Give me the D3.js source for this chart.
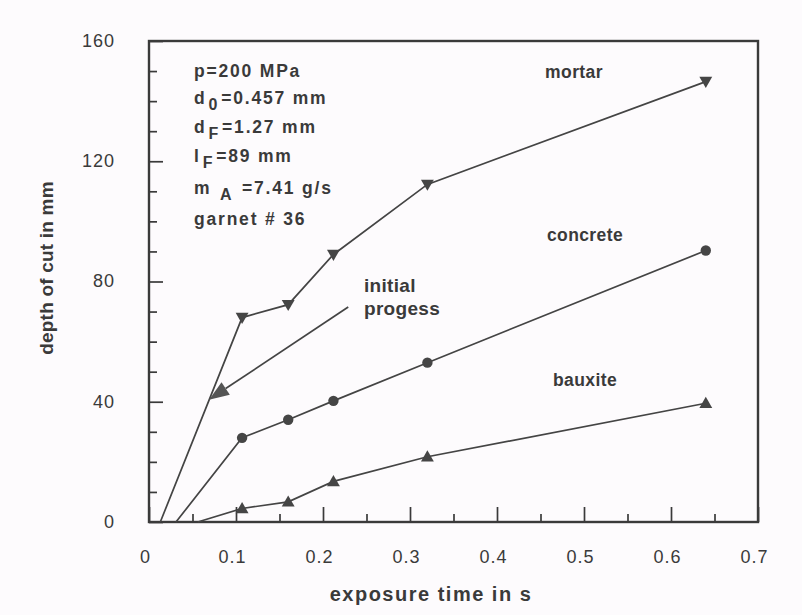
<!DOCTYPE html>
<html><head><meta charset="utf-8">
<script src="https://cdn.jsdelivr.net/npm/d3@7"></script>
<style>
body{margin:0;background:#fdfbfd;}
svg{display:block;}
text{font-family:"Liberation Sans",Arial,sans-serif;fill:#3a3a3a;}
</style></head><body>
<svg id="c" width="802" height="615"></svg>
<script>
const times = [0.107, 0.16, 0.212, 0.32, 0.64];
const mortar = [68, 72.3, 89, 112.3, 146.5];
const concrete = [28, 34, 40.3, 53, 90.3];
const bauxite = [4.5, 6.7, 13.5, 21.7, 39.5];
const intercepts = {mortar: 0.013, concrete: 0.031, bauxite: 0.056};
const xMajor = [0, 0.1, 0.2, 0.3, 0.4, 0.5, 0.6, 0.7];
const xMinor = [0.05, 0.15, 0.25, 0.35, 0.45, 0.55, 0.65];
const yMajor = [0, 40, 80, 120, 160];
const yMinor = [10, 20, 30, 50, 60, 70, 90, 100, 110, 130, 140, 150];
const arrowFrom = [0.229, 71.5], arrowTo = [0.069, 40.7];
const infoLines = [
  ["p=200 MPa"], ["d", "0", "=0.457 mm"], ["d", "F", "=1.27 mm"],
  ["l", "F", "=89 mm"], ["m ", "A", " =7.41 g/s"], ["garnet # 36"]
];

const svg = d3.select("#c");
const x = d3.scaleLinear().domain([0, 0.7]).range([149, 758]);
const y = d3.scaleLinear().domain([0, 160]).range([522, 41]);
const ink = "#3a3a3a";
const FONT = '"Liberation Sans",Arial,sans-serif';

// axes
const fmtX = d => d === 0 ? "0" : d3.format(".1f")(d);
const gx = svg.append("g").attr("transform", `translate(0,${y(0)})`)
  .call(d3.axisBottom(x).tickValues(xMajor).tickSize(-15).tickPadding(28).tickFormat(fmtX));
const gxm = svg.append("g").attr("transform", `translate(0,${y(0)})`)
  .call(d3.axisBottom(x).tickValues(xMinor).tickSize(-8).tickFormat(""));
const gy = svg.append("g").attr("transform", `translate(${x(0)},0)`)
  .call(d3.axisLeft(y).tickValues(yMajor).tickSize(-14).tickPadding(34).tickFormat(d3.format("d")));
const gym = svg.append("g").attr("transform", `translate(${x(0)},0)`)
  .call(d3.axisLeft(y).tickValues(yMinor).tickSize(-8).tickFormat(""));
[gx, gxm, gy, gym].forEach(g => {
  g.select(".domain").remove();
  g.selectAll("line").attr("stroke", ink).attr("stroke-width", 1.7);
  g.selectAll("text").style("font-size", "18px").style("letter-spacing", "1px")
   .attr("fill", "#444").style("font-family", FONT);
});
gy.selectAll("text").attr("dy", "0.3em");
gx.selectAll("text").attr("dy", "0.71em").attr("dx", -4);

// frame
svg.append("rect").attr("x", x(0)).attr("y", y(160))
  .attr("width", x(0.7) - x(0)).attr("height", y(0) - y(160))
  .attr("fill", "none").attr("stroke", ink).attr("stroke-width", 2.4);

// series
const series = [
  {name: "mortar", vals: mortar, start: intercepts.mortar, marker: "down"},
  {name: "concrete", vals: concrete, start: intercepts.concrete, marker: "circle"},
  {name: "bauxite", vals: bauxite, start: intercepts.bauxite, marker: "up"}
];
const line = d3.line().x(d => x(d[0])).y(d => y(d[1]));
const tri = d3.symbol().type(d3.symbolTriangle).size(72);
series.forEach(s => {
  const pts = [[s.start, 0]].concat(times.map((t, i) => [t, s.vals[i]]));
  svg.append("path").attr("d", line(pts)).attr("fill", "none")
    .attr("stroke", "#444").attr("stroke-width", 1.7);
  const g = svg.append("g");
  times.forEach((t, i) => {
    const cx = x(t), cy = y(s.vals[i]);
    if (s.marker === "circle") {
      g.append("circle").attr("cx", cx).attr("cy", cy).attr("r", 5.2).attr("fill", "#454545");
    } else {
      const rot = s.marker === "down" ? 180 : 0;
      g.append("path").attr("d", tri).attr("fill", "#454545")
        .attr("transform", `translate(${cx},${cy + (rot ? -1 : 1)}) rotate(${rot})`);
    }
  });
});

// arrow
const ax0 = x(arrowFrom[0]), ay0 = y(arrowFrom[1]), ax1 = x(arrowTo[0]), ay1 = y(arrowTo[1]);
const ang = Math.atan2(ay1 - ay0, ax1 - ax0);
const L = 20, W = 7.5;
const bx = ax1 - L * Math.cos(ang), by = ay1 - L * Math.sin(ang);
svg.append("line").attr("x1", ax0).attr("y1", ay0).attr("x2", bx).attr("y2", by)
  .attr("stroke", "#444").attr("stroke-width", 1.7);
svg.append("path").attr("fill", "#555").attr("d",
  `M${ax1},${ay1} L${bx + W * Math.sin(ang)},${by - W * Math.cos(ang)} L${bx - W * Math.sin(ang)},${by + W * Math.cos(ang)} Z`);

// labels
const lab = (t, px, py, size, ls, anchor) => svg.append("text").attr("x", px).attr("y", py)
  .attr("text-anchor", anchor || "start").style("font-size", size + "px").style("font-weight", "bold")
  .style("letter-spacing", ls + "px").text(t);
lab("mortar", 574, 78, 17.5, 0.4, "middle");
lab("concrete", 585, 241, 17.5, 0.4, "middle");
lab("bauxite", 585, 386, 17.5, 0.4, "middle");
lab("initial", 364, 292, 19, 0.3);
lab("progess", 364, 315, 19, 0.3);

// info block
const baselines = [77, 104, 133, 162, 194, 225];
infoLines.forEach((parts, i) => {
  const t = svg.append("text").attr("x", 194).attr("y", baselines[i])
    .style("font-size", "17.5px").style("font-weight", "bold").style("letter-spacing", "1.8px");
  if (parts.length === 1) { t.text(parts[0]); return; }
  t.append("tspan").text(parts[0]);
  t.append("tspan").attr("dy", 6).attr("dx", 2).style("font-size", "16px").text(parts[1]);
  t.append("tspan").attr("dy", -6).attr("dx", 2).text(parts[2]);
});

// axis titles
svg.append("text").attr("x", 431).attr("y", 601).attr("text-anchor", "middle")
  .style("font-size", "20px").style("font-weight", "bold").style("letter-spacing", "1.5px")
  .text("exposure time in s");
svg.append("text").attr("transform", "translate(53,268) rotate(-90)").attr("text-anchor", "middle")
  .style("font-size", "19px").style("font-weight", "bold").style("letter-spacing", "0.2px")
  .text("depth of cut in mm");
</script></body></html>
